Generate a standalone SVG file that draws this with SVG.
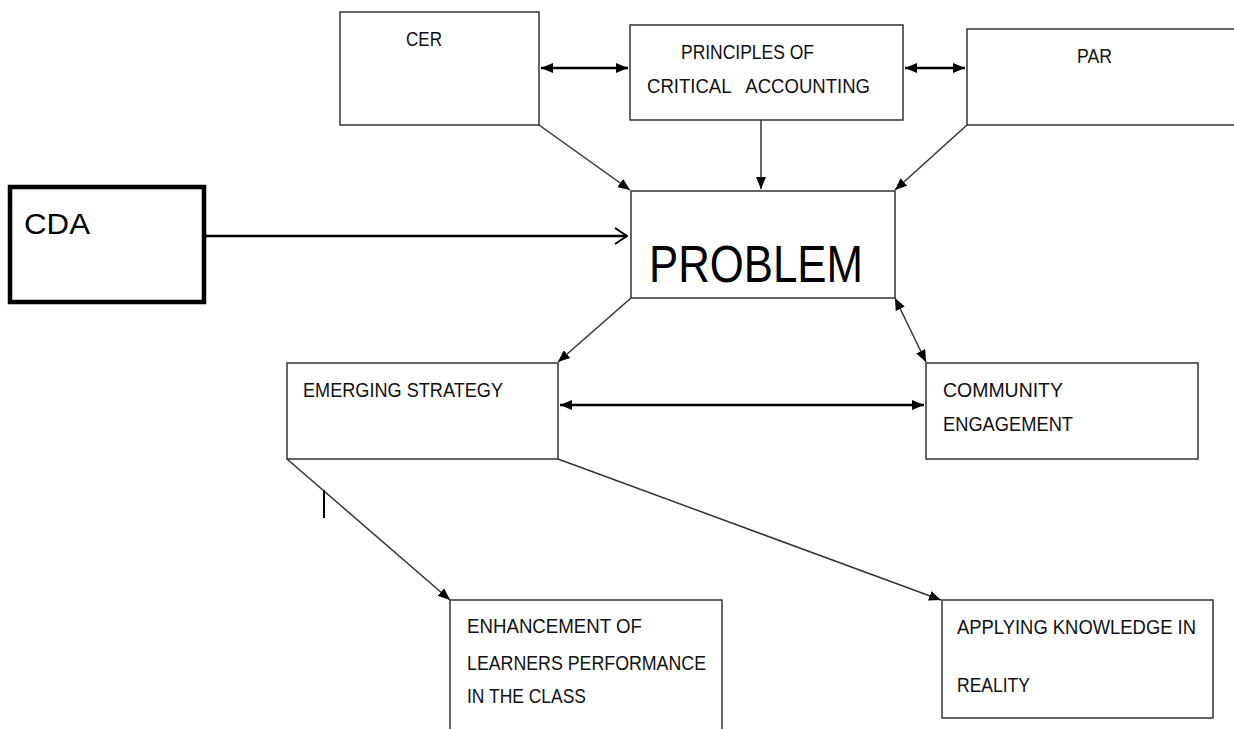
<svg xmlns="http://www.w3.org/2000/svg" width="1234" height="729" viewBox="0 0 1234 729">
  <defs>
    <marker id="tri" viewBox="0 0 12 10" refX="12" refY="5" markerWidth="12" markerHeight="10" markerUnits="userSpaceOnUse" orient="auto-start-reverse">
      <path d="M0,0 L12,5 L0,10 z" fill="#000"/>
    </marker>
    <marker id="chev" viewBox="0 0 14 18" refX="13" refY="9" markerWidth="14" markerHeight="18" markerUnits="userSpaceOnUse" orient="auto">
      <path d="M1,1 L13,9 L1,17" fill="none" stroke="#000" stroke-width="2"/>
    </marker>
  </defs>
  <style>
    .box { fill: #fff; stroke: #333; stroke-width: 1.5; }
    .lbl { font-family: "Liberation Sans", Arial, sans-serif; font-size: 21px; fill: #111; }
    .link { stroke: #333; stroke-width: 1.5; fill: none; }
    .bold { stroke: #000; stroke-width: 2.5; fill: none; }
  </style>
  <rect width="1234" height="729" fill="#fff"/>

  <g id="connectors">
    <line class="bold" x1="541" y1="68" x2="628" y2="68" marker-start="url(#tri)" marker-end="url(#tri)"/>
    <line class="bold" x1="905" y1="68" x2="965" y2="68" marker-start="url(#tri)" marker-end="url(#tri)"/>
    <line class="link" x1="539" y1="125" x2="630" y2="190" marker-end="url(#tri)"/>
    <line class="link" x1="761" y1="120" x2="761" y2="189" marker-end="url(#tri)"/>
    <line class="link" x1="967" y1="125" x2="895" y2="190" marker-end="url(#tri)"/>
    <line class="bold" x1="205" y1="236" x2="627" y2="236" marker-end="url(#chev)"/>
    <line class="link" x1="631" y1="298" x2="558" y2="362" marker-end="url(#tri)"/>
    <line class="link" x1="895" y1="298" x2="926" y2="362" marker-start="url(#tri)" marker-end="url(#tri)"/>
    <line class="bold" x1="560" y1="405" x2="924" y2="405" marker-start="url(#tri)" marker-end="url(#tri)"/>
    <line class="link" x1="287" y1="459" x2="450" y2="600" marker-end="url(#tri)"/>
    <line class="link" x1="558" y1="459" x2="941" y2="600" marker-end="url(#tri)"/>
    <line x1="324" y1="490" x2="324" y2="518" stroke="#000" stroke-width="2"/>
  </g>

  <g id="cer">
    <rect class="box" x="340" y="12" width="199" height="113"/>
    <text class="lbl" x="406" y="46" textLength="36" lengthAdjust="spacingAndGlyphs">CER</text>
  </g>

  <g id="principles">
    <rect class="box" x="630" y="25" width="273" height="95"/>
    <text class="lbl" x="681" y="59" textLength="133" lengthAdjust="spacingAndGlyphs">PRINCIPLES OF</text>
    <text class="lbl" x="647" y="93" textLength="223" lengthAdjust="spacingAndGlyphs" xml:space="preserve">CRITICAL   ACCOUNTING</text>
  </g>

  <g id="par">
    <rect class="box" x="967" y="29" width="280" height="96"/>
    <text class="lbl" x="1077" y="63" textLength="35" lengthAdjust="spacingAndGlyphs">PAR</text>
  </g>

  <g id="cda">
    <rect x="10" y="187" width="194" height="115" fill="#fff" stroke="#000" stroke-width="4.5"/>
    <text x="24" y="234" font-family="Liberation Sans, Arial, sans-serif" font-size="30" textLength="66" lengthAdjust="spacingAndGlyphs">CDA</text>
  </g>

  <g id="problem">
    <rect class="box" x="631" y="191" width="264" height="107"/>
    <text x="649" y="282" font-family="Liberation Sans, Arial, sans-serif" font-size="51" textLength="214" lengthAdjust="spacingAndGlyphs">PROBLEM</text>
  </g>

  <g id="emerging">
    <rect class="box" x="287" y="363" width="271" height="96"/>
    <text class="lbl" x="303" y="397" textLength="200" lengthAdjust="spacingAndGlyphs">EMERGING STRATEGY</text>
  </g>

  <g id="community">
    <rect class="box" x="926" y="363" width="272" height="96"/>
    <text class="lbl" x="943" y="397" textLength="120" lengthAdjust="spacingAndGlyphs">COMMUNITY</text>
    <text class="lbl" x="943" y="431" textLength="130" lengthAdjust="spacingAndGlyphs">ENGAGEMENT</text>
  </g>

  <g id="enhancement">
    <rect class="box" x="450" y="600" width="272" height="140"/>
    <text class="lbl" x="467" y="633" textLength="175" lengthAdjust="spacingAndGlyphs">ENHANCEMENT OF</text>
    <text class="lbl" x="467" y="670" textLength="239" lengthAdjust="spacingAndGlyphs">LEARNERS PERFORMANCE</text>
    <text class="lbl" x="467" y="703" textLength="119" lengthAdjust="spacingAndGlyphs">IN THE CLASS</text>
  </g>

  <g id="applying">
    <rect class="box" x="942" y="600" width="271" height="118"/>
    <text class="lbl" x="957" y="634" textLength="239" lengthAdjust="spacingAndGlyphs">APPLYING KNOWLEDGE IN</text>
    <text class="lbl" x="957" y="692" textLength="73" lengthAdjust="spacingAndGlyphs">REALITY</text>
  </g>
</svg>
